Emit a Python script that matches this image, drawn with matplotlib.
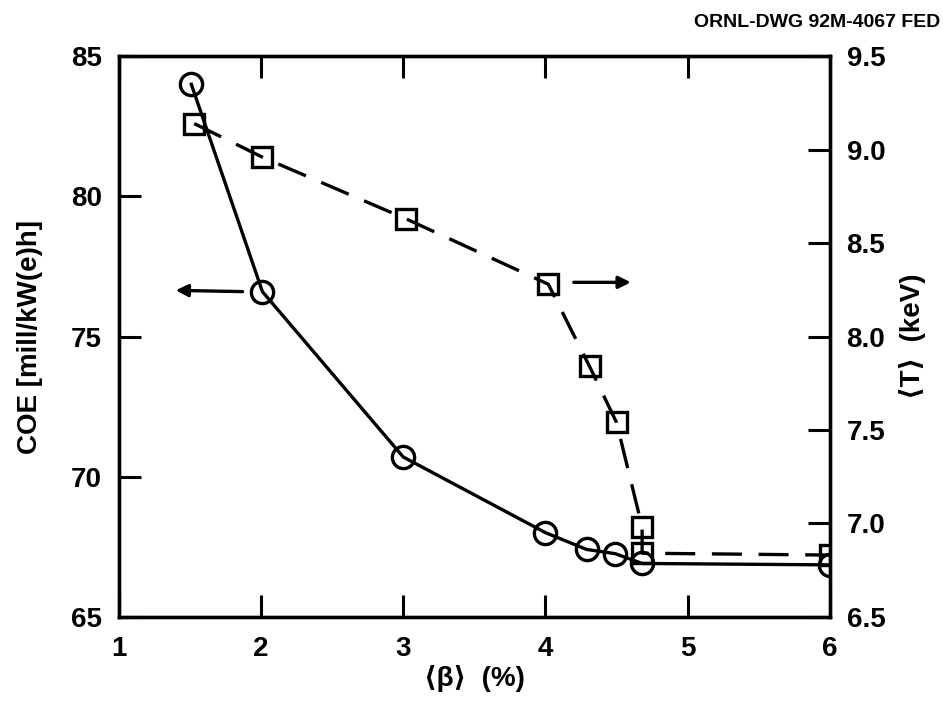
import matplotlib.pyplot as plt

plt.rcParams['font.family'] = ['Liberation Sans', 'DejaVu Sans']

# COE vs beta (circles, solid line, left axis)
beta_coe = [1.51, 2.01, 3.0, 4.0, 4.29, 4.49, 4.68, 6.0]
coe = [84.0, 76.6, 70.7, 68.0, 67.4, 67.25, 66.9, 66.85]

# <T> vs beta (squares, dashed line, right axis)
beta_t = [1.53, 2.01, 3.02, 4.02, 4.31, 4.50, 4.68, 4.68, 6.0]
temp = [9.14, 8.96, 8.63, 8.28, 7.84, 7.54, 6.98, 6.84, 6.83]

x_ticks = [1, 2, 3, 4, 5, 6]
coe_ticks = [65, 70, 75, 80, 85]
t_ticks = [6.5, 7.0, 7.5, 8.0, 8.5, 9.0, 9.5]

fig = plt.figure(figsize=(9.43, 7.04), dpi=100)
ax = fig.add_axes([0.126, 0.124, 0.754, 0.796])
ax2 = ax.twinx()

ax.plot(beta_coe, coe, color='black', lw=2.4, marker='o', ms=16,
        mfc='none', mec='black', mew=2.4, zorder=3)
ax2.plot(beta_t, temp, color='black', lw=2.4, dashes=(9, 5), marker='s',
         ms=14, mfc='none', mec='black', mew=2.4, zorder=3)

ax.set_xlim(1, 6)
ax.set_ylim(65, 85)
ax2.set_ylim(6.5, 9.5)

ax.set_xticks(x_ticks)
ax.set_yticks(coe_ticks)
ax2.set_yticks(t_ticks)
ax2.set_yticklabels([f'{t:.1f}' for t in t_ticks])

ax.tick_params(axis='x', direction='in', length=16, width=2.2, labelsize=20,
               top=True, pad=14)
ax.tick_params(axis='y', direction='in', length=16, width=2.2, labelsize=20,
               pad=12)
ax2.tick_params(axis='y', direction='in', length=16, width=2.2, labelsize=20,
                pad=12)
for lab in ax.get_xticklabels() + ax.get_yticklabels() + ax2.get_yticklabels():
    lab.set_fontweight('bold')

for a in (ax, ax2):
    for s in a.spines.values():
        s.set_linewidth(2.4)

ax.set_xlabel('⟨β⟩  (%)', fontsize=20, fontweight='bold', labelpad=2)
ax.set_ylabel('COE [mill/kW(e)h]', fontsize=20, fontweight='bold', labelpad=20)
ax2.set_ylabel('⟨T⟩  (keV)', fontsize=20, fontweight='bold', labelpad=10)

# arrows pointing to the relevant axis
ax.annotate('', xy=(1.38, 76.65), xytext=(1.89, 76.6),
            arrowprops=dict(arrowstyle='-|>', color='black', lw=2.4,
                            mutation_scale=18))
ax2.annotate('', xy=(4.62, 8.29), xytext=(4.18, 8.29),
             arrowprops=dict(arrowstyle='-|>', color='black', lw=2.4,
                             mutation_scale=18))

fig.text(0.997, 0.968, 'ORNL-DWG 92M-4067 FED', ha='right', va='center',
         fontsize=14, fontweight='bold')

fig.savefig('out.png', dpi=100)
